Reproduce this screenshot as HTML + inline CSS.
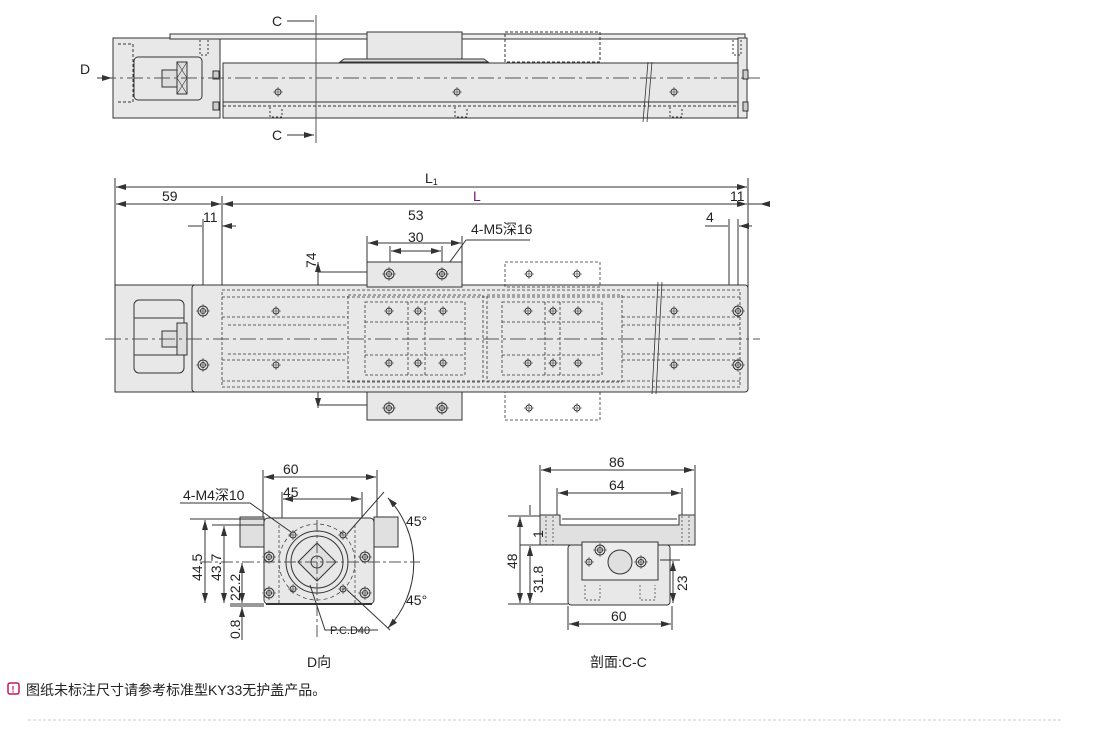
<!DOCTYPE html>
<html><head><meta charset="utf-8"><style>
body{margin:0;background:#fff;width:1110px;height:739px;overflow:hidden}
svg{display:block}
text{font-family:"Liberation Sans","Noto Sans CJK SC",sans-serif;fill:#222}
</style></head><body>
<svg width="1110" height="739" viewBox="0 0 1110 739" xmlns="http://www.w3.org/2000/svg">
<defs>
<marker id="a" viewBox="0 0 10 6" refX="10" refY="3" markerWidth="10" markerHeight="6" orient="auto-start-reverse"><path d="M0,0L10,3L0,6z" fill="#333"/></marker>
<g id="hole"><circle r="5" fill="#e6e6e6" stroke="#333" stroke-width="1"/><circle r="2.5" fill="none" stroke="#333"/><path d="M-7,0H7M0,-7V7" stroke="#333" stroke-width=".6"/></g>
<g id="hs"><circle r="3" fill="none" stroke="#333"/><path d="M-5,0H5M0,-5V5" stroke="#333" stroke-width=".6"/></g>
</defs>
<g stroke="#333" stroke-width="1" fill="none">
<rect x="113" y="38" width="107" height="80" fill="#e8e8e8"/>
<path d="M118,44H133V102H118" stroke-dasharray="3,2"/>
<rect x="134" y="57" width="68" height="43" rx="4" fill="#e8e8e8"/>
<rect x="162" y="70" width="15" height="17" fill="#ddd"/>
<rect x="177" y="62" width="10" height="32" fill="#ddd"/><path d="M177,62l10,16M187,62l-10,16M177,78l10,16M187,78l-10,16" stroke-width=".6"/>
<rect x="170" y="34" width="575" height="5" fill="#eee"/>
<rect x="367" y="32" width="95" height="30" fill="#e8e8e8"/>
<rect x="505" y="32" width="95" height="30" stroke-dasharray="3,2"/>
<path d="M340,62l4,-3h140l4,3z" fill="#ddd"/>
<rect x="223" y="63" width="516" height="55" fill="#e8e8e8"/>
<path d="M223,102H739"/><path d="M223,106H739" stroke-dasharray="3,2"/>
<rect x="738" y="38" width="9" height="80" fill="#e8e8e8"/>
<rect x="213" y="71" width="6" height="8" fill="#ccc"/><rect x="213" y="102" width="6" height="8" fill="#ccc"/>
<rect x="743" y="70" width="5" height="9" fill="#ccc"/><rect x="743" y="102" width="5" height="9" fill="#ccc"/>
<path d="M648,62l-5,60M652,62l-5,60" stroke-width=".8"/>
<g stroke-dasharray="2,2"><path d="M270,107v10h12v-10M455,107v10h12v-10M670,107v10h12v-10M200,40v15h8v-15M733,40v15h8v-15"/></g>
<path d="M100,78H760" stroke="#555" stroke-dasharray="16,4,3,4"/>
<path d="M316,15V143" stroke="#555"/>
<path d="M287,21H314M287,135H314" marker-end="url(#a)"/>
<path d="M97,78H112" marker-end="url(#a)"/>
<path d="M115,178V290M748,178V290M222,196V290M203,219V290M738,219V290M729,219V290M367,236V262M462,236V262M390,246V262M442,246V262"/>
<path d="M116,187H747" marker-start="url(#a)" marker-end="url(#a)"/>
<path d="M116,204H221" marker-start="url(#a)" marker-end="url(#a)"/>
<path d="M223,204H747" marker-start="url(#a)" marker-end="url(#a)"/>
<path d="M760,204H768M748,204H760" marker-start="url(#a)"/>
<path d="M188,226H202M236,226H222" marker-end="url(#a)"/>
<path d="M705,226H728M752,226H739" marker-end="url(#a)"/>
<path d="M368,243H461" marker-start="url(#a)" marker-end="url(#a)"/>
<path d="M391,251H441" marker-start="url(#a)" marker-end="url(#a)"/>
<path d="M318,262V408" marker-start="url(#a)" marker-end="url(#a)"/>
<path d="M318,272H380M318,405H380"/>
<path d="M466,240l-22,30"/><path d="M466,240H530"/>
<rect x="115" y="285" width="80" height="107" fill="#e8e8e8"/>
<rect x="192" y="285" width="556" height="107" rx="3" fill="#e8e8e8"/>
<rect x="134" y="300" width="50" height="73" rx="5" fill="#e8e8e8"/>
<path d="M134,318H184M134,355H184"/>
<rect x="162" y="331" width="15" height="16" fill="#ddd"/>
<rect x="177" y="323" width="10" height="32" fill="#ddd"/>
<rect x="367" y="262" width="95" height="25" fill="#e8e8e8"/>
<rect x="367" y="392" width="95" height="28" fill="#e8e8e8"/>
<g stroke-dasharray="3,2" stroke-width=".8">
<rect x="505" y="262" width="95" height="25"/><rect x="505" y="392" width="95" height="28"/>
<rect x="222" y="290" width="518" height="97"/>
<path d="M222,297H740M222,381H740M222,317H348M222,360H348M622,317H740M622,360H740M228,325H348M228,354H348M622,325H740M622,354H740"/>
<rect x="348" y="295" width="135" height="87"/><rect x="487" y="295" width="135" height="87"/>
<rect x="365" y="302" width="100" height="73"/><rect x="502" y="302" width="100" height="73"/>
<path d="M365,322H465M365,355H465M502,322H602M502,355H602M408,302V375M425,302V375M545,302V375M560,302V375"/>
</g>
<path d="M658,282l-6,112M662,282l-6,112" stroke-width=".8"/>
<path d="M105,339H760" stroke="#555" stroke-dasharray="16,4,3,4"/>
</g>
<g>
<use href="#hole" x="389" y="274"/><use href="#hole" x="442" y="274"/>
<use href="#hole" x="389" y="408"/><use href="#hole" x="442" y="408"/>
<use href="#hs" x="529" y="274"/><use href="#hs" x="577" y="274"/>
<use href="#hs" x="529" y="408"/><use href="#hs" x="577" y="408"/>
<use href="#hole" x="203" y="311"/><use href="#hole" x="203" y="365"/>
<use href="#hole" x="738" y="311"/><use href="#hole" x="738" y="365"/>
<use href="#hs" x="276" y="311"/><use href="#hs" x="276" y="365"/>
<use href="#hs" x="674" y="311"/><use href="#hs" x="674" y="365"/>
<use href="#hs" x="389" y="311"/><use href="#hs" x="418" y="311"/><use href="#hs" x="443" y="311"/>
<use href="#hs" x="389" y="363"/><use href="#hs" x="418" y="363"/><use href="#hs" x="443" y="363"/>
<use href="#hs" x="528" y="311"/><use href="#hs" x="553" y="311"/><use href="#hs" x="578" y="311"/>
<use href="#hs" x="528" y="363"/><use href="#hs" x="553" y="363"/><use href="#hs" x="578" y="363"/>
<use href="#hs" x="278" y="92"/><use href="#hs" x="457" y="92"/><use href="#hs" x="674" y="92"/>
</g>
<g stroke="#333" fill="none">
<path d="M263,470V519M377,470V519M282,492V540M362,492V540"/>
<path d="M264,477H376" marker-start="url(#a)" marker-end="url(#a)"/>
<path d="M283,499H361" marker-start="url(#a)" marker-end="url(#a)"/>
<rect x="240" y="517" width="24" height="30" fill="#e0e0e0"/>
<rect x="374" y="517" width="24" height="30" fill="#e0e0e0"/>
<rect x="264" y="518" width="110" height="86" rx="4" fill="#e8e8e8"/>
<path d="M266,604H372" stroke-width="2"/>
<circle cx="317" cy="562" r="31" fill="#e8e8e8"/><circle cx="317" cy="562" r="26"/>
<path d="M317,543L336,562L317,581L298,562Z" fill="#e0e0e0"/>
<circle cx="317" cy="562" r="6" fill="#ddd"/>
<circle cx="317" cy="562" r="38" stroke-dasharray="4,3" stroke-width=".7"/>
<path d="M279,525V604M355,525V604" stroke-dasharray="3,2" stroke-width=".7"/>
<path d="M200,562H420" stroke="#555" stroke-dasharray="12,3,3,3"/>
<path d="M317,520V640" stroke="#555" stroke-dasharray="12,3,3,3"/>
<path d="M190,519H264M212,525H264M230,604H264M230,606H264"/>
<path d="M205,520V603" marker-start="url(#a)" marker-end="url(#a)"/>
<path d="M224,526V603" marker-start="url(#a)" marker-end="url(#a)"/>
<path d="M242,563V603" marker-start="url(#a)" marker-end="url(#a)"/>
<path d="M242,640V607" marker-end="url(#a)"/>
<path d="M180,503H250L291,532"/>
<path d="M347,534L384,492M347,590L390,630"/>
<path d="M388,498A95,95 0 0 1 388,628" marker-start="url(#a)" marker-end="url(#a)"/>
<path d="M310,585L325,630H378"/>
</g>
<g><use href="#hs" x="293" y="535"/><use href="#hs" x="343" y="535"/><use href="#hs" x="293" y="589"/><use href="#hs" x="343" y="589"/>
<use href="#hole" x="269" y="557"/><use href="#hole" x="365" y="557"/><use href="#hole" x="269" y="593"/><use href="#hole" x="365" y="593"/></g>
<g stroke="#333" fill="none">
<path d="M540,465V516M695,465V516M557,488V516M682,488V516"/>
<path d="M541,470H694" marker-start="url(#a)" marker-end="url(#a)"/>
<path d="M558,493H681" marker-start="url(#a)" marker-end="url(#a)"/>
<path d="M540,515H560V525H679V515H695V545H540Z" fill="#e0e0e0"/>
<path d="M562,519H677" />
<rect x="568" y="545" width="102" height="60" rx="3" fill="#e8e8e8"/>
<path d="M582,542H658V580H582Z" fill="#ececec"/>
<circle cx="620" cy="562" r="12" fill="#e0e0e0"/>
<path d="M546,516V545M553,516V545M682,516V545M689,516V545M585,585V600H600V585M640,585V600H655V585" stroke-dasharray="2,2" stroke-width=".7"/>
<path d="M508,516H540M520,545H568M508,604H568M660,560H680"/>
<path d="M520,517V603" marker-start="url(#a)" marker-end="url(#a)"/>
<path d="M530,505V515M530,555V546" marker-end="url(#a)"/>
<path d="M530,546V603" marker-start="url(#a)" marker-end="url(#a)"/>
<path d="M673,561V603" marker-start="url(#a)" marker-end="url(#a)"/>
<path d="M568,606V630M672,606V630"/>
<path d="M569,624H671" marker-start="url(#a)" marker-end="url(#a)"/>
</g>
<g><use href="#hole" x="600" y="550"/><use href="#hs" x="589" y="562"/><use href="#hole" x="641" y="562"/></g>
<g font-size="14">
<text x="272" y="26">C</text><text x="272" y="140">C</text><text x="80" y="74">D</text>
<text x="425" y="183">L<tspan font-size="9" dy="2">1</tspan></text>
<text x="162" y="201">59</text><text x="473" y="201" style="fill:#7a1a7a">L</text>
<text x="730" y="201">11</text><text x="203" y="222">11</text><text x="706" y="222">4</text>
<text x="408" y="220">53</text><text x="408" y="242">30</text><text x="471" y="234">4-M5深16</text>
<text transform="translate(316,268) rotate(-90)">74</text>
<text x="283" y="474">60</text><text x="283" y="497">45</text><text x="183" y="500">4-M4深10</text>
<text transform="translate(202,581) rotate(-90)">44.5</text>
<text transform="translate(221,581) rotate(-90)">43.7</text>
<text transform="translate(240,601) rotate(-90)">22.2</text>
<text transform="translate(240,639) rotate(-90)">0.8</text>
<text x="406" y="526">45°</text><text x="406" y="605">45°</text>
<text x="330" y="634" font-size="11">P.C.D40</text>
<text x="307" y="667">D向</text>
<text x="609" y="467">86</text><text x="609" y="490">64</text>
<text transform="translate(517,569) rotate(-90)">48</text>
<text transform="translate(543,538) rotate(-90)">1</text>
<text transform="translate(543,593) rotate(-90)">31.8</text>
<text transform="translate(687,591) rotate(-90)">23</text>
<text x="611" y="621">60</text>
<text x="590" y="667">剖面:C-C</text>
<text x="26" y="695">图纸未标注尺寸请参考标准型KY33无护盖产品。</text>
</g>
<rect x="8" y="683" width="11" height="11" rx="2" fill="none" stroke="#c2185b" stroke-width="1.5"/>
<text x="11.5" y="692.5" font-size="9" font-weight="bold" style="fill:#c2185b">!</text>
<path d="M28,720H1062" stroke="#ccc" stroke-dasharray="3,2"/>
</svg>
</body></html>
